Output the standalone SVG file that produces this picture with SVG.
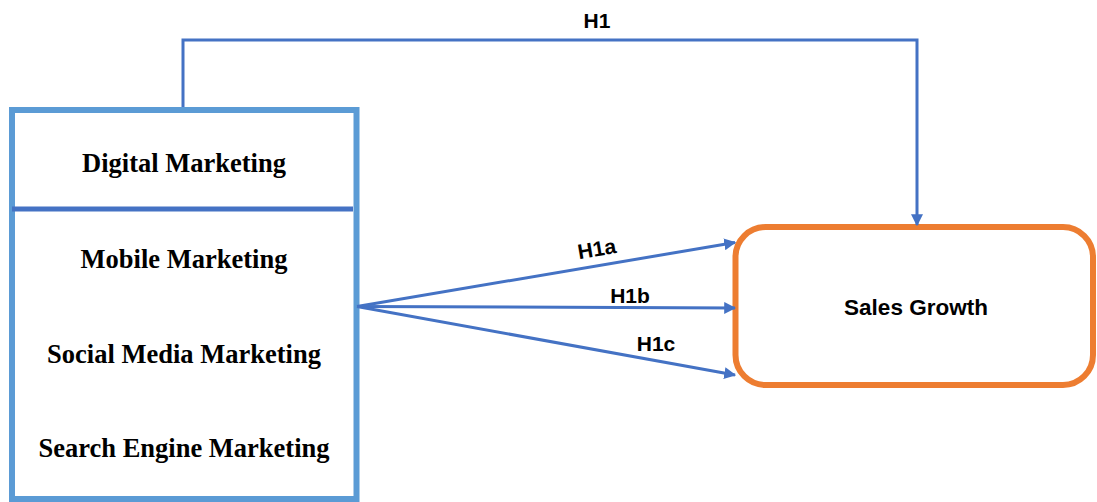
<svg xmlns="http://www.w3.org/2000/svg" width="1097" height="502" viewBox="0 0 1097 502">
  <defs>
    <marker id="arrow" viewBox="0 0 10 10" refX="9" refY="5" markerWidth="4" markerHeight="4" markerUnits="strokeWidth" orient="auto">
      <path d="M0,0 L10,5 L0,10 z" fill="#4472C4"/>
    </marker>
    <style>
      .serif { font-family: "Liberation Serif", "Times New Roman", serif; font-weight: bold; font-size: 26.5px; fill: #000; text-anchor: middle; }
      .sans { font-family: "Liberation Sans", Arial, sans-serif; font-weight: bold; fill: #000; text-anchor: middle; }
      .lbl { font-size: 21px; }
      .conn { fill: none; stroke: #4472C4; stroke-width: 3; }
    </style>
  </defs>
  <rect width="1097" height="502" fill="#fff"/>

  <!-- Digital marketing construct with its three dimensions -->
  <g id="digital-marketing">
    <rect x="12" y="110" width="344.5" height="389" fill="#fff" stroke="#5B9BD5" stroke-width="6"/>
    <line x1="12" y1="209" x2="353" y2="209" stroke="#4472C4" stroke-width="5"/>
    <text class="serif" x="184" y="172">Digital Marketing</text>
  </g>
  <g id="mobile-marketing">
    <text class="serif" x="184" y="268">Mobile Marketing</text>
  </g>
  <g id="social-media-marketing">
    <text class="serif" x="184" y="363">Social Media Marketing</text>
  </g>
  <g id="search-engine-marketing">
    <text class="serif" x="184" y="457">Search Engine Marketing</text>
  </g>

  <!-- Outcome -->
  <g id="sales-growth">
    <rect x="735.5" y="227" width="357.5" height="158" rx="30" ry="30" fill="#fff" stroke="#ED7D31" stroke-width="6"/>
    <text class="sans" x="916" y="315" font-size="22.5">Sales Growth</text>
  </g>

  <!-- Hypothesised paths -->
  <g id="connectors">
    <polyline class="conn" points="183,107 183,40 917,40 917,225" marker-end="url(#arrow)"/>
    <line class="conn" x1="357" y1="306.5" x2="735" y2="242.5" marker-end="url(#arrow)"/>
    <line class="conn" x1="357" y1="306.5" x2="735" y2="308" marker-end="url(#arrow)"/>
    <line class="conn" x1="357" y1="306.5" x2="735" y2="375" marker-end="url(#arrow)"/>
    <text class="sans lbl" x="597" y="28">H1</text>
    <text class="sans lbl" x="598" y="256" transform="rotate(-9.6 598 256)">H1a</text>
    <text class="sans lbl" x="630" y="303">H1b</text>
    <text class="sans lbl" x="656" y="351">H1c</text>
  </g>
</svg>
